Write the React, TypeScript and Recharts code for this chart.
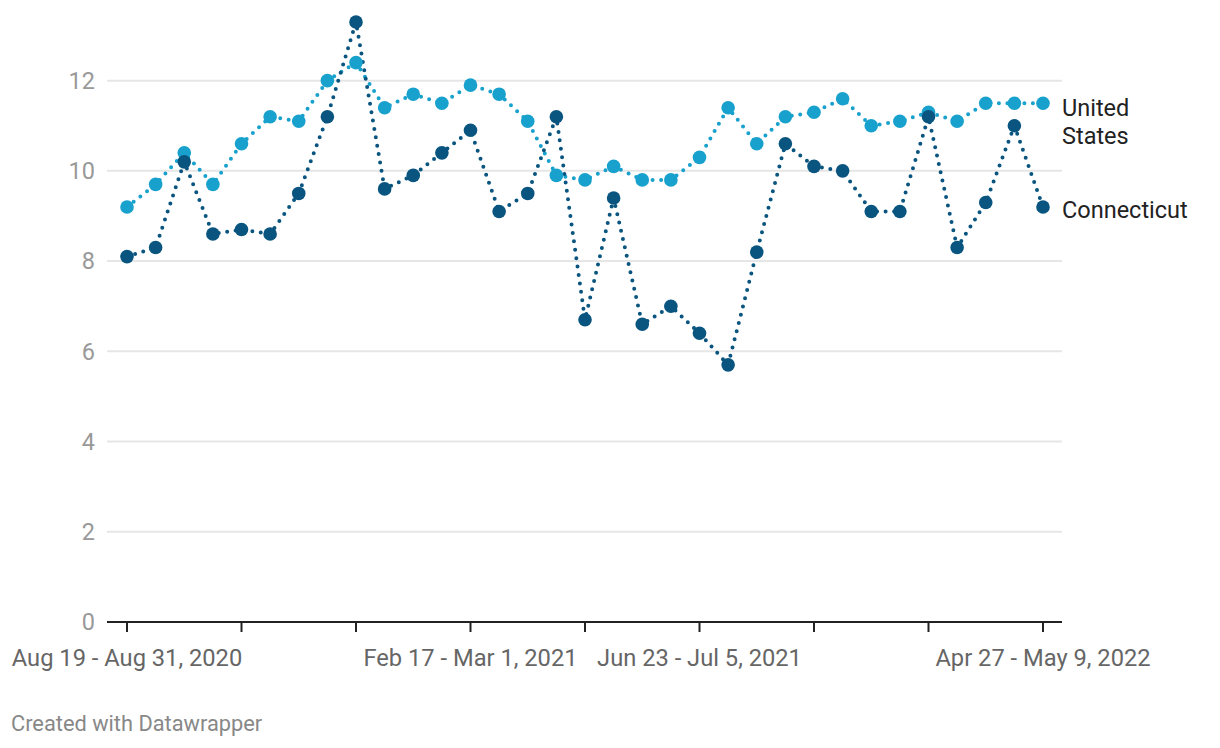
import { LineChart, Line, XAxis, YAxis, CartesianGrid } from "recharts";

// Household Pulse Survey weeks 13 - 45
const weeks = [
  13, 14, 15, 16, 17, 18, 19, 20, 21, 22, 23, 24, 25, 26, 27, 28, 29,
  30, 31, 32, 33, 34, 35, 36, 37, 38, 39, 40, 41, 42, 43, 44, 45,
];

const unitedStates = [
  9.2, 9.7, 10.4, 9.7, 10.6, 11.2, 11.1, 12.0, 12.4, 11.4, 11.7, 11.5, 11.9,
  11.7, 11.1, 9.9, 9.8, 10.1, 9.8, 9.8, 10.3, 11.4, 10.6, 11.2, 11.3, 11.6,
  11.0, 11.1, 11.3, 11.1, 11.5, 11.5, 11.5,
];

const connecticut = [
  8.1, 8.3, 10.2, 8.6, 8.7, 8.6, 9.5, 11.2, 13.3, 9.6, 9.9, 10.4, 10.9, 9.1,
  9.5, 11.2, 6.7, 9.4, 6.6, 7.0, 6.4, 5.7, 8.2, 10.6, 10.1, 10.0, 9.1, 9.1,
  11.2, 8.3, 9.3, 11.0, 9.2,
];

const tickWeeks = [13, 17, 21, 25, 29, 33, 37, 41, 45];
const tickLabels: Record<number, string> = {
  13: "Aug 19 - Aug 31, 2020",
  25: "Feb 17 - Mar 1, 2021",
  33: "Jun 23 - Jul 5, 2021",
  45: "Apr 27 - May 9, 2022",
};
const yTicks = [0, 2, 4, 6, 8, 10, 12];
const gridValues = [2, 4, 6, 8, 10, 12];

const data = weeks.map((week, i) => ({
  week,
  us: unitedStates[i],
  ct: connecticut[i],
}));

const US_COLOR = "#18a1cd";
const CT_COLOR = "#09557f";
const FONT = "Roboto, sans-serif";
const last = weeks.length - 1;

function renderUSLabel(props: any) {
  if (props.index !== last) return null;
  const x = props.x + 19;
  return (
    <text x={x} y={props.y + 13} fill="#222" fontSize={23.5} fontFamily={FONT}>
      <tspan x={x}>United</tspan>
      <tspan x={x} dy={28}>States</tspan>
    </text>
  );
}

function renderCTLabel(props: any) {
  if (props.index !== last) return null;
  return (
    <text x={props.x + 19} y={props.y + 11} fill="#222" fontSize={23.5} fontFamily={FONT}>
      Connecticut
    </text>
  );
}

export default function App() {
  return (
    <div style={{ position: "absolute", left: 0, top: 0, width: 1220, height: 748, background: "#fff" }}>
      <LineChart width={1220} height={748} data={data} margin={{ top: 22, right: 158, bottom: 0, left: 0 }}>
        <CartesianGrid vertical={false} horizontalValues={gridValues} stroke="#e6e6e6" strokeWidth={2} />
        <XAxis
          dataKey="week"
          type="category"
          ticks={tickWeeks}
          interval={0}
          height={126}
          padding={{ left: 20, right: 19 }}
          tickSize={10}
          tickMargin={17}
          axisLine={{ stroke: "#222", strokeWidth: 2 }}
          tickLine={{ stroke: "#222", strokeWidth: 2 }}
          tickFormatter={(w: number) => tickLabels[w] ?? ""}
          tick={{ fill: "#666", fontSize: 23.7, fontFamily: FONT }}
        />
        <YAxis
          domain={[0, 13.3]}
          ticks={yTicks}
          width={107}
          axisLine={false}
          tickLine={false}
          tickSize={0}
          tickMargin={12}
          tick={{ fill: "#999", fontSize: 23.5, fontFamily: FONT }}
        />
        <Line
          dataKey="us"
          stroke={US_COLOR}
          strokeWidth={4}
          strokeDasharray="0 8.5"
          strokeLinecap="round"
          dot={{ r: 6.8, fill: US_COLOR, stroke: "none", strokeWidth: 0 }}
          activeDot={false}
          label={renderUSLabel}
          isAnimationActive={false}
        />
        <Line
          dataKey="ct"
          stroke={CT_COLOR}
          strokeWidth={4}
          strokeDasharray="0 8.5"
          strokeLinecap="round"
          dot={{ r: 6.8, fill: CT_COLOR, stroke: "none", strokeWidth: 0 }}
          activeDot={false}
          label={renderCTLabel}
          isAnimationActive={false}
        />
      </LineChart>
      <div
        style={{
          position: "absolute",
          left: 11,
          top: 711,
          fontFamily: FONT,
          fontSize: 21.8,
          color: "#888",
          lineHeight: "26px",
        }}
      >
        Created with Datawrapper
      </div>
    </div>
  );
}
